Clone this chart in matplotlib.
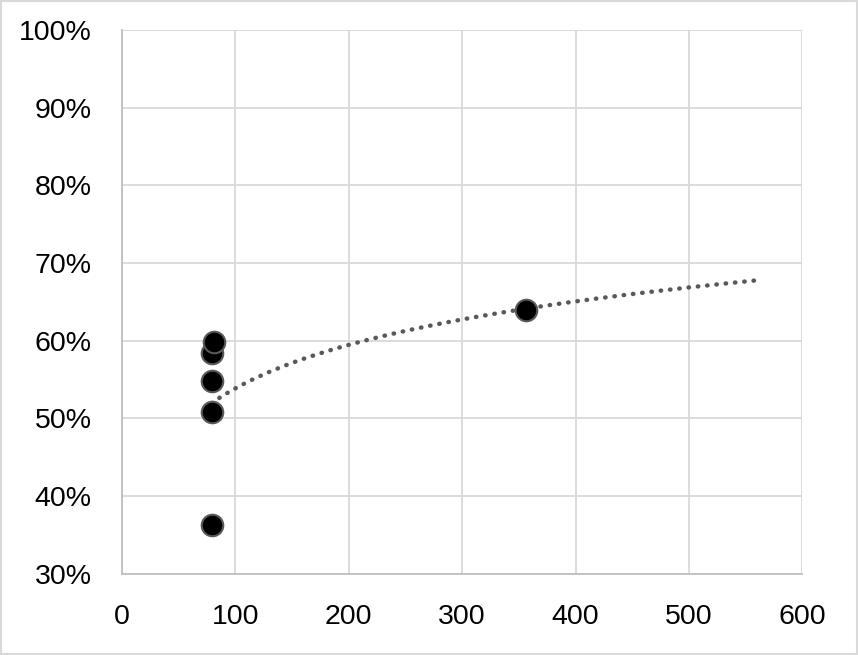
import numpy as np
import matplotlib
matplotlib.use("Agg")
import matplotlib.pyplot as plt
from matplotlib.ticker import PercentFormatter
from matplotlib.patches import Rectangle

# scatter data (x count, y share)
x_vals = [79, 79, 79, 79, 81, 356]
y_vals = [0.363, 0.508, 0.548, 0.584, 0.599, 0.640]
forecast_forward = 204  # trendline extends past last point

x_ticks = [0, 100, 200, 300, 400, 500, 600]
y_ticks = [0.3, 0.4, 0.5, 0.6, 0.7, 0.8, 0.9, 1.0]

plt.rcParams['font.family'] = ['Liberation Sans', 'DejaVu Sans']

fig = plt.figure(figsize=(8.59, 6.55), dpi=100)
ax = fig.add_axes([0.142, 0.124, 0.792, 0.830])

grid_c = '#d9d9d9'

# logarithmic trendline fitted to the points
b, a = np.polyfit(np.log(x_vals), y_vals, 1)
tx = np.linspace(min(x_vals), max(x_vals) + forecast_forward, 200)
ax.plot(tx, a + b * np.log(tx), linestyle=(0, (0.1, 2.0)), color='#595959',
        linewidth=3.2, dash_capstyle='round', zorder=2)

ax.scatter(x_vals, y_vals, s=15.5 ** 2, color='black', edgecolors='#595959',
           linewidths=1.5, zorder=3)

ax.set_xlim(0, 600)
ax.set_ylim(0.3, 1.0)
ax.set_xticks(x_ticks)
ax.set_yticks(y_ticks)
ax.yaxis.set_major_formatter(PercentFormatter(1.0, decimals=0))
ax.grid(True, color=grid_c, linewidth=1.3)
ax.set_axisbelow(True)
for side in ['top', 'right']:
    ax.spines[side].set_visible(False)
for side in ['left', 'bottom']:
    ax.spines[side].set_color('#bfbfbf')
    ax.spines[side].set_linewidth(1.3)
ax.tick_params(length=0, labelsize=20.5)
ax.tick_params(axis='x', pad=22)
ax.tick_params(axis='y', pad=22)

# outer chart border
fig.patches.append(Rectangle((0.001, 0.001), 0.997, 0.997, transform=fig.transFigure,
                             fill=False, edgecolor=grid_c, linewidth=1.5))

fig.savefig('out.png', dpi=100)
